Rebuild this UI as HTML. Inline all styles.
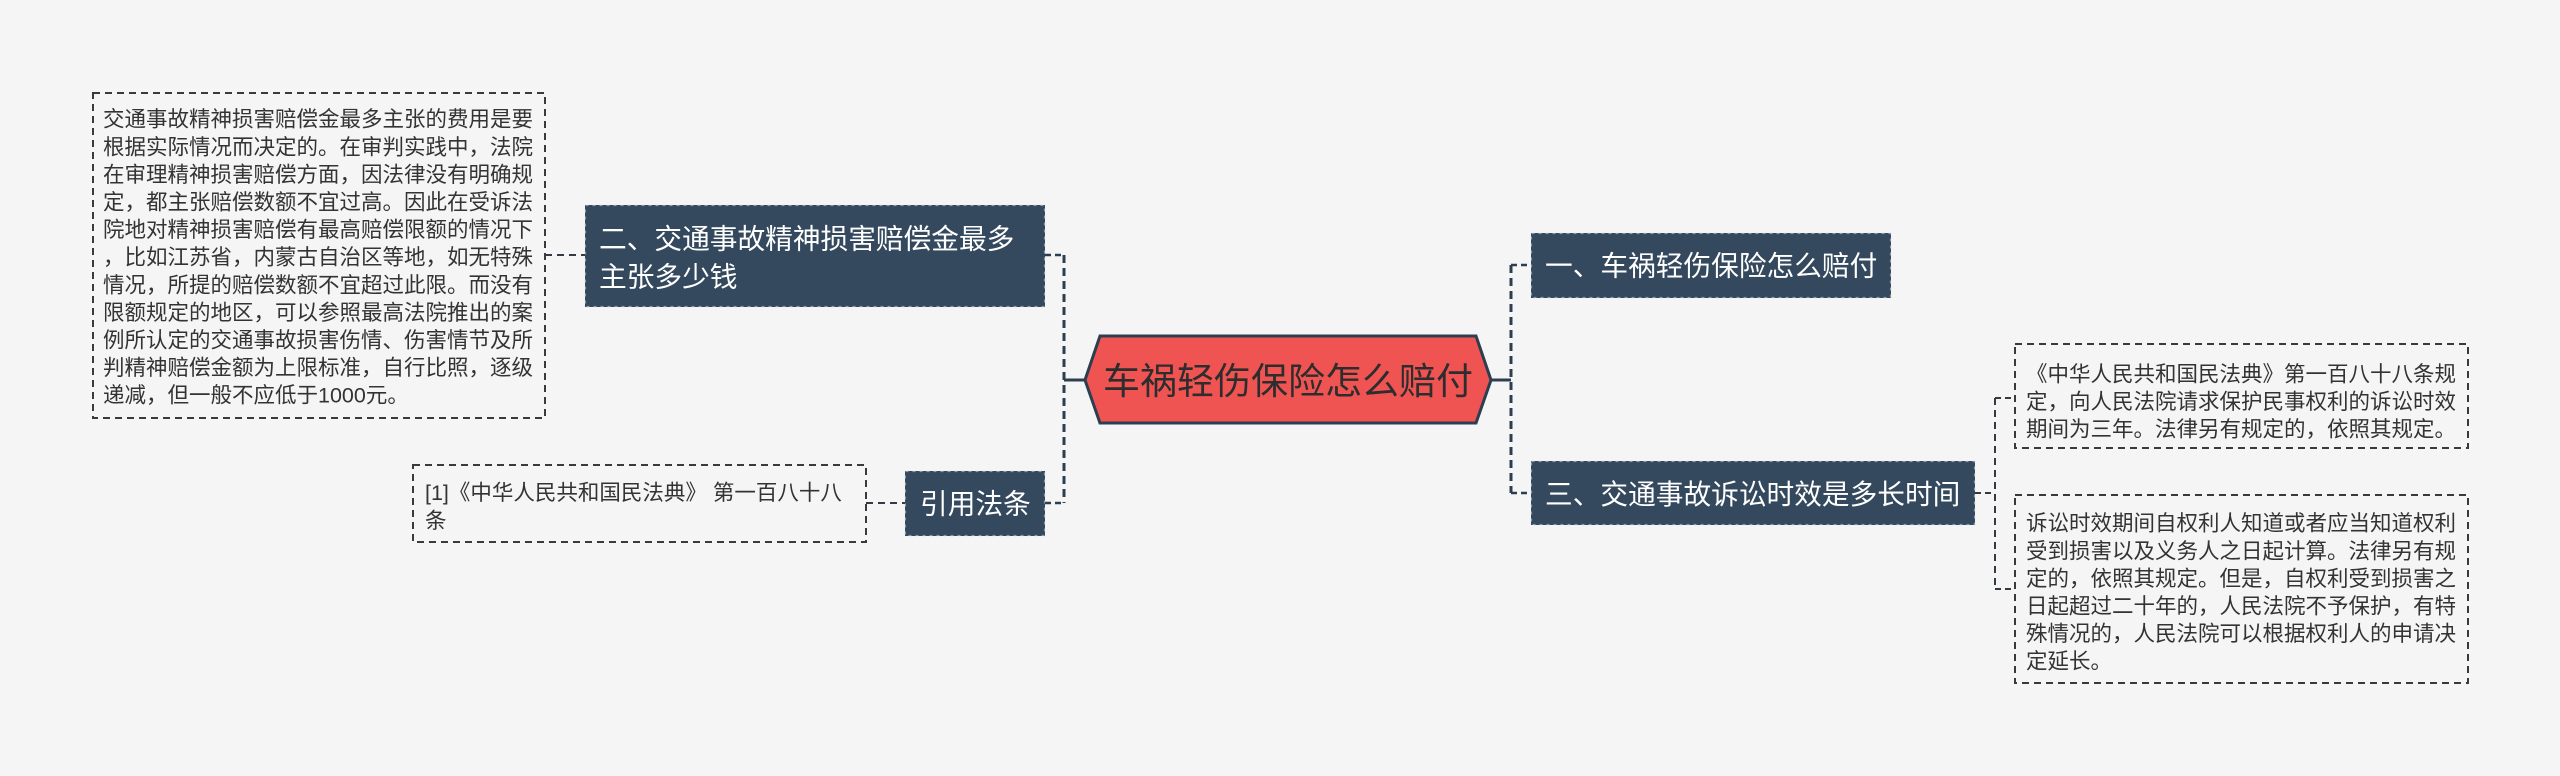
<!DOCTYPE html>
<html>
<head>
<meta charset="utf-8">
<style>
  html,body{margin:0;padding:0;background:#f5f5f5;}
  body{width:2560px;height:776px;overflow:hidden;}
  svg{display:block;}
  text{font-family:"Liberation Sans","Noto Sans CJK SC",sans-serif;}
  .t{font-size:21.5px;fill:#333333;}
  .n{font-size:27.7px;fill:#ffffff;}
</style>
</head>
<body>
<svg width="2560" height="776" viewBox="0 0 2560 776" xmlns="http://www.w3.org/2000/svg">
  <rect x="0" y="0" width="2560" height="776" fill="#f5f5f5"/>

  <!-- connectors: main trunks -->
  <g stroke="#2c3e50" fill="none">
    <line x1="1064" y1="255" x2="1064" y2="503" stroke-width="3" stroke-dasharray="8,5"/>
    <line x1="1045" y1="255" x2="1064" y2="255" stroke-width="2.5" stroke-dasharray="6,4"/>
    <line x1="1045" y1="503" x2="1064" y2="503" stroke-width="2.5" stroke-dasharray="6,4"/>
    <line x1="1064" y1="380" x2="1086" y2="380" stroke-width="3"/>

    <line x1="1511" y1="265" x2="1511" y2="493" stroke-width="3" stroke-dasharray="8,5"/>
    <line x1="1489" y1="380" x2="1511" y2="380" stroke-width="3"/>
    <line x1="1511" y1="265" x2="1531" y2="265" stroke-width="2.5" stroke-dasharray="6,4"/>
    <line x1="1511" y1="493" x2="1531" y2="493" stroke-width="2.5" stroke-dasharray="6,4"/>
  </g>
  <g stroke="#333a44" fill="none" stroke-width="2">
    <line x1="545" y1="255" x2="585" y2="255" stroke-dasharray="7,5"/>
    <line x1="866" y1="503" x2="905" y2="503" stroke-dasharray="7,5"/>
    <line x1="1995" y1="398" x2="1995" y2="589" stroke-dasharray="7,5"/>
    <line x1="1975" y1="493" x2="1995" y2="493" stroke-dasharray="6,4"/>
    <line x1="1995" y1="398" x2="2014" y2="398" stroke-dasharray="6,4"/>
    <line x1="1995" y1="589" x2="2014" y2="589" stroke-dasharray="6,4"/>
  </g>

  <!-- text boxes (dashed) -->
  <g fill="none" stroke="#3a3a3a" stroke-width="2" stroke-dasharray="7,5">
    <rect x="93" y="93" width="452" height="325"/>
    <rect x="413" y="465" width="453" height="77"/>
    <rect x="2015" y="344" width="453" height="104"/>
    <rect x="2015" y="495" width="453" height="188"/>
  </g>

  <!-- topic nodes -->
  <g fill="#34495e">
    <rect x="585" y="205" width="460" height="102"/>
    <rect x="905" y="471" width="140" height="65"/>
    <rect x="1531" y="233" width="360" height="65"/>
    <rect x="1531" y="461" width="444" height="64"/>
  </g>
  <g fill="none" stroke="#9fb0c0" stroke-width="1.2" stroke-dasharray="3,4" opacity="0.8">
    <rect x="585.5" y="205.5" width="459" height="101"/>
    <rect x="905.5" y="471.5" width="139" height="64"/>
    <rect x="1531.5" y="233.5" width="359" height="64"/>
    <rect x="1531.5" y="461.5" width="443" height="63"/>
  </g>

  <!-- central hexagon -->
  <polygon points="1100,336 1476,336 1491,380 1476,423 1100,423 1085,380" fill="#ef5452" stroke="#2c3e50" stroke-width="3" stroke-linejoin="miter"/>
  <text x="1103" y="394" font-size="37" fill="#2d2d2d">车祸轻伤保险怎么赔付</text>

  <!-- node texts -->
  <text class="n" x="599" y="248.5">二、交通事故精神损害赔偿金最多</text>
  <text class="n" x="599" y="286.5">主张多少钱</text>
  <text class="n" x="920" y="513.5">引用法条</text>
  <text class="n" x="1545" y="275.5">一、车祸轻伤保险怎么赔付</text>
  <text class="n" x="1545" y="504">三、交通事故诉讼时效是多长时间</text>

  <!-- left detail box -->
  <g class="t">
    <text class="t" x="103" y="126.7">交通事故精神损害赔偿金最多主张的费用是要</text>
    <text class="t" x="103" y="154.3">根据实际情况而决定的。在审判实践中，法院</text>
    <text class="t" x="103" y="181.9">在审理精神损害赔偿方面，因法律没有明确规</text>
    <text class="t" x="103" y="209.5">定，都主张赔偿数额不宜过高。因此在受诉法</text>
    <text class="t" x="103" y="237.1">院地对精神损害赔偿有最高赔偿限额的情况下</text>
    <text class="t" x="103" y="264.7">，比如江苏省，内蒙古自治区等地，如无特殊</text>
    <text class="t" x="103" y="292.3">情况，所提的赔偿数额不宜超过此限。而没有</text>
    <text class="t" x="103" y="319.9">限额规定的地区，可以参照最高法院推出的案</text>
    <text class="t" x="103" y="347.5">例所认定的交通事故损害伤情、伤害情节及所</text>
    <text class="t" x="103" y="375.1">判精神赔偿金额为上限标准，自行比照，逐级</text>
    <text class="t" x="103" y="402.7">递减，但一般不应低于1000元。</text>
  </g>

  <!-- citation box -->
  <text class="t" x="425" y="500.2">[1]《中华人民共和国民法典》 第一百八十八</text>
  <text class="t" x="425" y="528.2">条</text>

  <!-- right box 1 -->
  <text class="t" x="2026" y="381.5">《中华人民共和国民法典》第一百八十八条规</text>
  <text class="t" x="2026" y="409">定，向人民法院请求保护民事权利的诉讼时效</text>
  <text class="t" x="2026" y="436.5">期间为三年。法律另有规定的，依照其规定。</text>

  <!-- right box 2 -->
  <text class="t" x="2026" y="530.7">诉讼时效期间自权利人知道或者应当知道权利</text>
  <text class="t" x="2026" y="558.3">受到损害以及义务人之日起计算。法律另有规</text>
  <text class="t" x="2026" y="585.9">定的，依照其规定。但是，自权利受到损害之</text>
  <text class="t" x="2026" y="613.5">日起超过二十年的，人民法院不予保护，有特</text>
  <text class="t" x="2026" y="641.1">殊情况的，人民法院可以根据权利人的申请决</text>
  <text class="t" x="2026" y="668.7">定延长。</text>
</svg>
</body>
</html>
